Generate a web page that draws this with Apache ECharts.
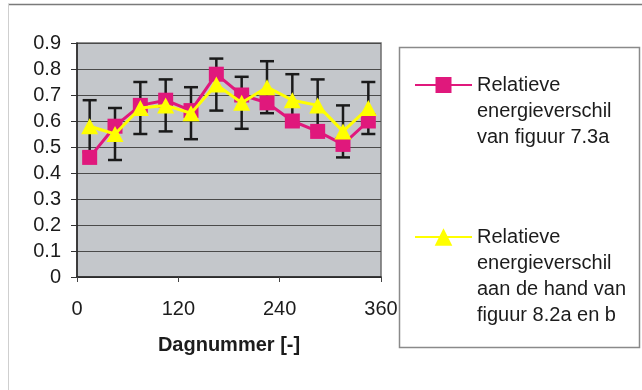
<!DOCTYPE html>
<html>
<head>
<meta charset="utf-8">
<script src="https://cdn.jsdelivr.net/npm/echarts@6/dist/echarts.min.js"></script>
<style>
  html, body { margin: 0; padding: 0; background: #ffffff; }
  #chart { width: 642px; height: 390px; }
</style>
</head>
<body>
<div id="chart"></div>
<script>
// Day numbers (mid-month samples)
const days = [15, 45, 75, 105, 135, 165, 195, 225, 255, 285, 315, 345];

// Relative energy difference from figure 7.3a
const valuesFig73a = [0.46, 0.58, 0.66, 0.68, 0.64, 0.78, 0.70, 0.67, 0.60, 0.56, 0.51, 0.60];

// Relative energy difference derived from figures 8.2a and 8.2b
const valuesFig82 = [0.58, 0.55, 0.65, 0.66, 0.63, 0.74, 0.67, 0.73, 0.68, 0.66, 0.56, 0.65];

// Error margin (±) on the figure 8.2 series
const errorMargin = [0.10, 0.10, 0.10, 0.10, 0.10, 0.10, 0.10, 0.10, 0.10, 0.10, 0.10, 0.10];

const xTicks = [0, 120, 240, 360];
const yTicks = [0, 0.1, 0.2, 0.3, 0.4, 0.5, 0.6, 0.7, 0.8, 0.9];

const nameFig73a = 'Relatieve energieverschil van figuur 7.3a';
const nameFig82 = 'Relatieve energieverschil aan de hand van figuur 8.2a en b';
const legendLines73a = ['Relatieve', 'energieverschil', 'van figuur 7.3a'];
const legendLines82 = ['Relatieve', 'energieverschil', 'aan de hand van', 'figuur 8.2a en b'];

const FONT = '"Liberation Sans", Arial, sans-serif';
const PINK = '#e0187c';
const YELLOW = '#ffff00';

const errorData = days.map((d, i) => [d, valuesFig82[i] - errorMargin[i], valuesFig82[i] + errorMargin[i]]);

function renderErrorBar(params, api) {
  const x = api.value(0);
  const lo = api.coord([x, api.value(1)]);
  const hi = api.coord([x, api.value(2)]);
  const hw = 7;
  const style = { stroke: '#1a1a1a', lineWidth: 2.5 };
  return {
    type: 'group',
    children: [
      { type: 'line', shape: { x1: lo[0], y1: lo[1], x2: hi[0], y2: hi[1] }, style },
      { type: 'line', shape: { x1: hi[0] - hw, y1: hi[1], x2: hi[0] + hw, y2: hi[1] }, style },
      { type: 'line', shape: { x1: lo[0] - hw, y1: lo[1], x2: lo[0] + hw, y2: lo[1] }, style }
    ]
  };
}

// Legend text is centred on its icon; leading empty lines put the icon beside the first line.
function legendLabel(lines) {
  return new Array(lines.length - 1).fill(' ').concat(lines).join('\n');
}

const legendText = {
  fontFamily: FONT,
  fontSize: 20,
  lineHeight: 26,
  color: '#1c1c1c'
};

const chart = echarts.init(document.getElementById('chart'), null, { renderer: 'canvas' });

chart.setOption({
  backgroundColor: '#ffffff',
  animation: false,
  grid: {
    left: 77, right: 261, top: 43, bottom: 113,
    show: true,
    backgroundColor: '#c4c7cb',
    borderColor: '#6e6e6e',
    borderWidth: 1.5
  },
  legend: [
    {
      data: [nameFig73a],
      left: 414, top: 20,
      padding: 0,
      itemWidth: 57, itemHeight: 20,
      selectedMode: false,
      formatter: () => legendLabel(legendLines73a),
      textStyle: legendText
    },
    {
      data: [nameFig82],
      left: 414, top: 146,
      padding: 0,
      itemWidth: 57, itemHeight: 22,
      selectedMode: false,
      formatter: () => legendLabel(legendLines82),
      textStyle: legendText
    }
  ],
  xAxis: {
    type: 'value',
    min: xTicks[0],
    max: xTicks[xTicks.length - 1],
    interval: xTicks[1] - xTicks[0],
    name: 'Dagnummer [-]',
    nameLocation: 'middle',
    nameGap: 58,
    nameTextStyle: { fontFamily: FONT, fontSize: 20, fontWeight: 'bold', color: '#1c1c1c' },
    axisLine: { show: true, lineStyle: { color: '#222', width: 1.5 } },
    axisTick: { show: true, inside: false, length: 5, lineStyle: { color: '#444' } },
    axisLabel: { fontFamily: FONT, fontSize: 20, color: '#1c1c1c', margin: 22 },
    splitLine: { show: false }
  },
  yAxis: {
    type: 'value',
    min: yTicks[0],
    max: yTicks[yTicks.length - 1],
    interval: yTicks[1] - yTicks[0],
    axisLine: { show: true, lineStyle: { color: '#222', width: 1.5 } },
    axisTick: { show: true, inside: false, length: 6, lineStyle: { color: '#333' } },
    axisLabel: {
      fontFamily: FONT, fontSize: 20, color: '#1c1c1c', margin: 16,
      formatter: v => String(Math.round(v * 10) / 10)
    },
    splitLine: { show: true, lineStyle: { color: '#4a4a4a', width: 1.2 } }
  },
  series: [
    {
      name: 'error',
      type: 'custom',
      renderItem: renderErrorBar,
      data: errorData,
      encode: { x: 0, y: [1, 2] },
      z: 1,
      silent: true
    },
    {
      name: nameFig73a,
      type: 'line',
      data: days.map((d, i) => [d, valuesFig73a[i]]),
      symbol: 'rect',
      symbolSize: 15,
      lineStyle: { color: PINK, width: 3 },
      itemStyle: { color: PINK },
      z: 2
    },
    {
      name: nameFig82,
      type: 'line',
      data: days.map((d, i) => [d, valuesFig82[i]]),
      symbol: 'triangle',
      symbolSize: [17, 16],
      lineStyle: { color: YELLOW, width: 3 },
      itemStyle: { color: YELLOW },
      z: 3
    }
  ],
  graphic: [
    // outer chart frame
    { type: 'line', shape: { x1: 8, y1: 4.5, x2: 642, y2: 4.5 }, style: { stroke: '#7a7a7a', lineWidth: 1.5 }, silent: true },
    { type: 'line', shape: { x1: 8.5, y1: 4, x2: 8.5, y2: 390 }, style: { stroke: '#cfcfcf', lineWidth: 1 }, silent: true },
    // legend frame
    { type: 'rect', shape: { x: 399.5, y: 47.5, width: 240, height: 300 }, style: { fill: null, stroke: '#8a8a8a', lineWidth: 1.5 }, silent: true, z: -1 }
  ]
});
</script>
</body>
</html>
